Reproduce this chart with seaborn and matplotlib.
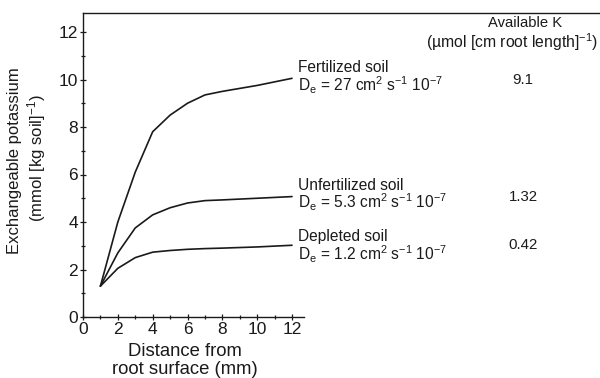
import matplotlib
matplotlib.use("Agg")
import matplotlib.pyplot as plt
import seaborn as sns
import pandas as pd

# Exchangeable K profiles around a root (mmol per kg soil) vs. distance from root surface (mm)
distance = [1, 2, 3, 4, 5, 6, 7, 8, 10, 12]
fertilized = [1.3, 4.0, 6.1, 7.8, 8.5, 9.0, 9.35, 9.5, 9.75, 10.05]
unfertilized = [1.3, 2.7, 3.75, 4.3, 4.6, 4.8, 4.9, 4.93, 5.0, 5.07]
depleted = [1.3, 2.05, 2.5, 2.73, 2.8, 2.85, 2.88, 2.9, 2.95, 3.02]

soil_names = ["Fertilized soil", "Unfertilized soil", "Depleted soil"]
diffusion = [r"D$_\mathrm{e}$ = 27 cm$^2$ s$^{-1}$ 10$^{-7}$",
             r"D$_\mathrm{e}$ = 5.3 cm$^2$ s$^{-1}$ 10$^{-7}$",
             r"D$_\mathrm{e}$ = 1.2 cm$^2$ s$^{-1}$ 10$^{-7}$"]
available_k = ["9.1", "1.32", "0.42"]

sns.set_style("ticks")
plt.rcParams["font.family"] = ["Liberation Sans", "DejaVu Sans"]
plt.rcParams["mathtext.fontset"] = "custom"
plt.rcParams["mathtext.rm"] = "Liberation Sans"
plt.rcParams["mathtext.it"] = "Liberation Sans:italic"

df = pd.DataFrame({
    "distance": distance * 3,
    "potassium": fertilized + unfertilized + depleted,
    "soil": [s for s in soil_names for _ in distance],
})

fig = plt.figure(figsize=(6.0, 3.78), dpi=100)
W, H = 600, 378
x0, y0 = 83, 317          # pixel position of data origin
ax = fig.add_axes([x0 / W, (H - y0) / H, (W - x0) / W, (y0 - 12.5) / H])

sns.lineplot(data=df, x="distance", y="potassium", units="soil", estimator=None,
             color="#1a1a1a", linewidth=1.2, ax=ax, legend=False)

px_per_x = (292 - x0) / 12.0
px_per_y = (y0 - 32) / 12.0
ax.set_xlim(0, (W - x0) / px_per_x)
ax.set_ylim(0, (y0 - 12.5) / px_per_y)

for side in ["left", "bottom", "top"]:
    ax.spines[side].set_linewidth(1.0)
    ax.spines[side].set_color("#1a1a1a")
ax.spines["right"].set_visible(False)
ax.spines["bottom"].set_bounds(0, 12.7)

ax.set_xticks([0, 2, 4, 6, 8, 10, 12])
ax.set_xticks(range(1, 13, 2), minor=True)
ax.set_yticks([0, 2, 4, 6, 8, 10, 12])
ax.set_yticks(range(1, 13, 2), minor=True)
ax.tick_params(which="major", direction="inout", length=5, width=0.9,
               labelsize=12.5, colors="#1a1a1a", pad=1)
ax.tick_params(which="minor", direction="inout", length=3.5, width=0.9, colors="#1a1a1a")
ax.tick_params(top=False, right=False, which="both")
ax.set_xlabel("")
ax.set_ylabel("")

def fx(px):
    return px / W

def fy(py):
    return 1 - py / H

ink = "#1a1a1a"

# axis titles
fig.text(fx(185), fy(352), "Distance from", ha="center", va="center", fontsize=13.3, color=ink)
fig.text(fx(185), fy(370), "root surface (mm)", ha="center", va="center", fontsize=13.3, color=ink)
fig.text(fx(15), fy(161), "Exchangeable potassium", ha="center", va="center",
         rotation=90, fontsize=12, color=ink)
fig.text(fx(37), fy(158), "(mmol [kg soil]$^{-1}$)", ha="center", va="center",
         rotation=90, fontsize=12, color=ink)

# curve labels and available K column
label_rows = [(68, 85, 80), (185, 202, 197), (237, 254, 245)]
for name, de, k, (ny, dy, ky) in zip(soil_names, diffusion, available_k, label_rows):
    fig.text(fx(298), fy(ny), name, ha="left", va="center", fontsize=11.2, color=ink)
    fig.text(fx(298), fy(dy), de, ha="left", va="center", fontsize=11.2, color=ink)
    fig.text(fx(523), fy(ky), k, ha="center", va="center", fontsize=10.8, color=ink)

fig.text(fx(525), fy(23), "Available K", ha="center", va="center", fontsize=10.6, color=ink)
fig.text(fx(512), fy(42), "(µmol [cm root length]$^{-1}$)", ha="center", va="center",
         fontsize=11.3, color=ink)

fig.savefig("out.png", dpi=100)
